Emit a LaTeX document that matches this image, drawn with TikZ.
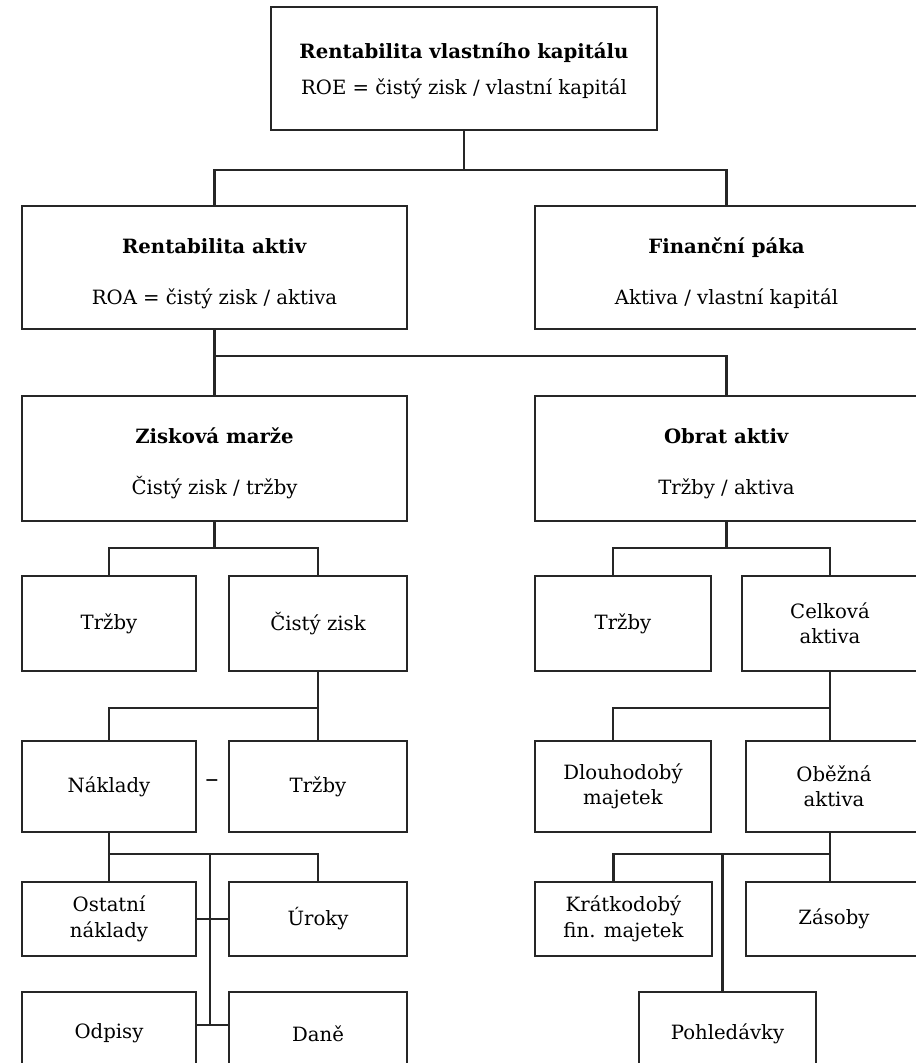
\documentclass[tikz,border=0pt]{standalone}
\usepackage{fontspec}
\setmainfont{DejaVu Serif}
\begin{document}
\begin{tikzpicture}[
    x=0.02cm, y=-0.02cm,
    line width=1.2pt,
    font=\fontsize{11.2}{14.5}\selectfont,
    box/.style 2 args={
        draw=black!85,
        rectangle,
        inner sep=0pt,
        minimum width=#1*0.02cm,
        minimum height=#2*0.02cm,
        align=center
    },
    link/.style={draw=black!85}
]
\useasboundingbox (0,0) rectangle (916,1063);
\clip (0,0) rectangle (916,1063);

% top level
\node[box={386}{123}] (roe) at (464,68.5) {\rule{0pt}{0.4cm}\textbf{Rentabilita vlastního kapitálu}\\[0.2cm]ROE = čistý zisk / vlastní kapitál};
\node[box={385}{123}] (roa) at (214.5,267.5) {\rule{0pt}{0.55cm}\textbf{Rentabilita aktiv}\\[0.5cm]ROA = čistý zisk / aktiva};
\node[box={383}{123}] (fp) at (726.5,267.5) {\rule{0pt}{0.55cm}\textbf{Finanční páka}\\[0.5cm]Aktiva / vlastní kapitál};
\node[box={385}{125}] (zm) at (214.5,458.5) {\rule{0pt}{0.5cm}\textbf{Zisková marže}\\[0.5cm]Čistý zisk / tržby};
\node[box={383}{125}] (oa) at (726.5,458.5) {\rule{0pt}{0.5cm}\textbf{Obrat aktiv}\\[0.5cm]Tržby / aktiva};

% left branch
\node[box={174}{95}] (t1) at (109,623.5) {Tržby};
\node[box={178}{95}] (cz) at (318,623.5) {Čistý zisk};
\node[box={174}{91}] (nk) at (109,786.5) {Náklady};
\node[box={178}{91}] (tr) at (318,786.5) {Tržby};
\node[font=\fontsize{15}{15}\selectfont] (minus) at (212,784) {--};
\node[box={174}{74}] (on) at (109,919) {Ostatní\\náklady};
\node[box={178}{74}] (ur) at (318,919) {Úroky};
\node[box={174}{83}] (od) at (109,1033.5) {Odpisy};
\node[box={178}{83}] (dn) at (318,1033.5) {Daně};

% right branch
\node[box={176}{95}] (t2) at (623,623.5) {Tržby};
\node[box={176}{95}] (ca) at (830,623.5) {Celková\\aktiva};
\node[box={176}{91}] (dm) at (623,786.5) {Dlouhodobý\\majetek};
\node[box={176}{91}] (ob) at (834,786.5) {Oběžná\\aktiva};
\node[box={177}{74}] (kf) at (623.5,919) {Krátkodobý\\fin. majetek};
\node[box={176}{74}] (zs) at (834,919) {Zásoby};
\node[box={177}{83}] (ph) at (727.5,1033.5) {Pohledávky};

% connectors
\coordinate (j1) at (464,170);
\coordinate (j2) at (214.5,356);
\coordinate (j3) at (214.5,548);
\coordinate (j4) at (726.5,548);
\coordinate (j5) at (318,708);
\coordinate (j6) at (830,708);
\coordinate (j7) at (109,854);
\coordinate (j8) at (210,854);
\coordinate (j9) at (210,1025);
\coordinate (j10) at (830,854);

\draw[link] (roe.south) -- (j1);
\draw[link] (roa.north) |- (j1) -| (fp.north);
\draw[link] (roa.south) -- (zm.north);
\draw[link] (j2) -| (oa.north);
\draw[link] (zm.south) -- (j3);
\draw[link] (t1.north) |- (j3) -| (cz.north);
\draw[link] (oa.south) -- (j4);
\draw[link] ([xshift=-0.2cm]t2.north) |- (j4) -| (ca.north);
\draw[link] (cz.south) -- (tr.north);
\draw[link] (j5) -| (nk.north);
\draw[link] (ca.south) -- (ca.south |- ob.north);
\draw[link] (j6) -| ([xshift=-0.2cm]dm.north);
\draw[link] (nk.south) -- (on.north);
\draw[link] (j7) -| (ur.north);
\draw[link] (j8) -- (j9);
\draw[link] (on.east) -- (ur.west);
\draw[link] (od.east |- j9) -- (dn.west |- j9);
\draw[link] (ob.south -| j10) -- (zs.north -| j10);
\draw[link] (j10) -| ([xshift=-0.2cm]kf.north);
\draw[link] ([xshift=-0.1cm]ph.north) -- ([xshift=-0.1cm]ph.north |- j10);
\end{tikzpicture}
\end{document}
